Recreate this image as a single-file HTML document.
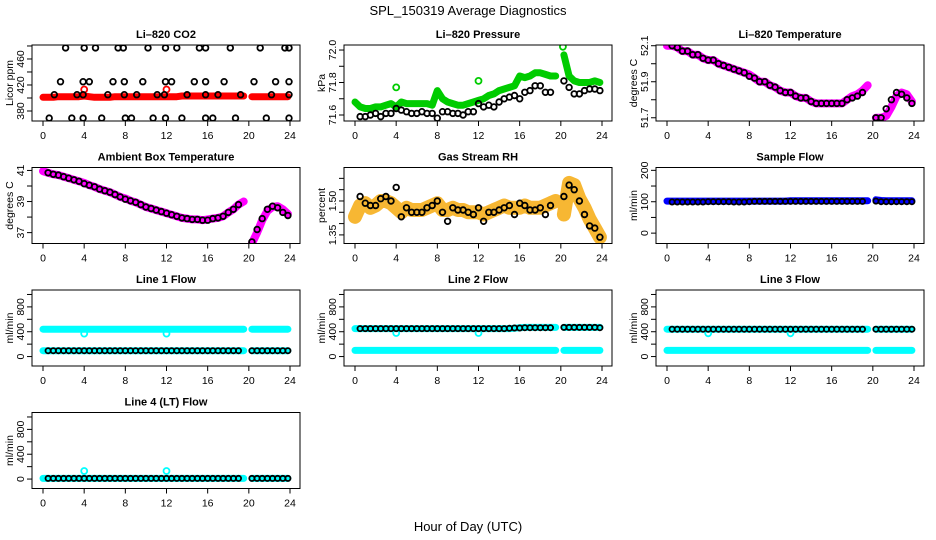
<!DOCTYPE html>
<html><head><meta charset="utf-8"><style>
body{margin:0;background:#fff;}
svg{display:block;font-family:"Liberation Sans",sans-serif;}
</style></head><body>
<svg id="chart" width="936" height="540" viewBox="0 0 936 540" xmlns="http://www.w3.org/2000/svg">
<text x="468" y="15" text-anchor="middle" font-size="13">SPL_150319  Average Diagnostics</text>
<text x="468" y="531" text-anchor="middle" font-size="13">Hour of Day (UTC)</text>
</svg>
<script>
const hours=[0,0.5,1,1.5,2,2.5,3,3.5,4,4.5,5,5.5,6,6.5,7,7.5,8,8.5,9,9.5,10,10.5,11,11.5,12,12.5,13,13.5,14,14.5,15,15.5,16,16.5,17,17.5,18,18.5,19,19.5,20.3,20.8,21.3,21.8,22.3,22.8,23.3,23.8];
const xTicks=[0,4,8,12,16,20,24];
const co2Red=[401,401,401,402,402,402,402,402,403,402,401,401,401,401,402,402,402,402,402,402,402,402,402,402,402,402,402,403,403,403,403,403,403,403,403,403,403,403,403,403,402,402,402,402,402,402,402,402];
const co2OutHours=[4,12];
const co2OutVals=[413,413];
const co2BlackHours=[2.2,4,5.1,7.3,7.8,10.2,11.9,13,15.2,15.8,18.2,21.1,23.5,23.9,1.7,3.9,4.5,6.8,7.9,9.7,11.9,12.5,14.7,15.8,17.6,20.5,22.6,23.9,1.1,3.3,3.9,6.3,7.9,9.1,11.1,11.8,14,15.8,17,19.2,22.2,23.9,0.6,2.8,3.9,5.7,8,8.6,10.7,11.9,13.5,15.8,16.5,18.7,21.7,23.9];
const co2BlackVals=[477,477,477,477,477,477,477,477,477,477,477,477,477,477,425,425,425,425,425,425,425,425,425,425,425,425,425,425,405,405,405,405,405,405,405,405,405,405,405,405,405,405,369,369,369,369,369,369,369,369,369,369,369,369,369,369];
const presGreen=[71.68,71.65,71.64,71.64,71.65,71.65,71.66,71.67,71.65,71.68,71.67,71.67,71.67,71.67,71.67,71.66,71.75,71.7,71.68,71.67,71.66,71.66,71.67,71.68,71.69,71.7,71.72,71.73,71.75,71.76,71.77,71.78,71.84,71.83,71.84,71.86,71.86,71.85,71.84,71.84,71.97,71.84,71.81,71.8,71.8,71.8,71.81,71.8];
const presOutHours=[4,12,20.2];
const presOutVals=[71.77,71.81,72.02];
const presBlack=[null,71.59,71.59,71.6,71.61,71.59,71.61,71.61,71.64,71.63,71.62,71.61,71.61,71.62,71.61,71.61,71.58,71.62,71.62,71.61,71.61,71.6,71.62,71.62,71.67,71.65,71.66,71.65,71.68,71.7,71.71,71.72,71.7,71.74,71.75,71.78,71.78,71.74,71.74,null,71.81,71.77,71.73,71.73,71.75,71.76,71.76,71.75];
const licorTemp=[52.1,52.1,52.09,52.07,52.07,52.05,52.05,52.03,52.02,52.02,52.0,51.99,51.98,51.97,51.96,51.95,51.94,51.92,51.9,51.9,51.88,51.87,51.85,51.84,51.84,51.82,51.81,51.81,51.79,51.78,51.78,51.78,51.78,51.78,51.78,51.8,51.82,51.83,51.85,51.88,51.7,51.7,51.71,51.76,51.82,51.84,51.83,51.79];
const licorTempBlack=[null,52.1,52.09,52.07,52.07,52.05,52.05,52.03,52.02,52.02,52.0,51.99,51.98,51.97,51.96,51.95,51.93,51.92,51.9,51.9,51.88,51.87,51.85,51.84,51.84,51.82,51.81,51.81,51.79,51.78,51.78,51.78,51.78,51.78,51.78,51.8,51.81,51.82,51.84,null,51.7,51.7,51.75,51.8,51.84,51.83,51.81,51.78];
const ambTemp=[40.95,40.85,40.75,40.7,40.6,40.5,40.4,40.3,40.2,40.05,39.95,39.8,39.7,39.6,39.45,39.3,39.2,39.05,38.95,38.8,38.65,38.55,38.45,38.35,38.25,38.15,38.05,37.95,37.9,37.85,37.85,37.8,37.85,37.9,37.95,38.05,38.3,38.5,38.8,39.0,36.3,37.0,37.8,38.4,38.65,38.7,38.5,38.2];
const ambTempBlack=[null,40.85,40.75,40.7,40.6,40.5,40.4,40.3,40.15,40.05,39.95,39.8,39.7,39.6,39.45,39.3,39.15,39.05,38.95,38.8,38.65,38.55,38.45,38.35,38.25,38.15,38.05,37.95,37.9,37.85,37.85,37.8,37.8,37.9,37.95,38.05,38.3,38.5,38.8,null,36.4,37.2,37.9,38.5,38.7,38.6,38.3,38.1];
const rhOrange=[1.43,1.48,1.49,1.47,1.48,1.5,1.5,1.49,1.47,1.45,1.47,1.46,1.46,1.46,1.47,1.48,1.49,1.46,1.46,1.47,1.46,1.46,1.45,1.45,1.45,1.44,1.45,1.46,1.47,1.48,1.47,1.47,1.47,1.48,1.47,1.47,1.47,1.48,1.49,1.5,1.44,1.58,1.57,1.51,1.47,1.42,1.38,1.34];
const rhBlack=[null,1.52,1.49,1.48,1.48,1.51,1.52,1.5,1.56,1.43,1.47,1.45,1.45,1.45,1.47,1.48,1.5,1.45,1.41,1.47,1.46,1.46,1.45,1.44,1.47,1.41,1.45,1.45,1.46,1.47,1.48,1.44,1.49,1.48,1.46,1.46,1.47,1.44,1.48,null,1.52,1.57,1.55,1.5,1.44,1.39,1.38,1.34];
const sampleBlue=[102,102,102,102,102,102,102,102,102,102,102,102,102,102,102,102,102,102,102,102,102,102,102,102,103,103,103,103,103,103,103,103,103,103,103,103,103,103,103,103,106,104,103,103,103,103,103,103];
const sampleBlack=[null,99,99,99,99,99,99,99,100,100,100,100,100,99,99,99,100,101,101,101,101,101,101,101,101,101,101,101,101,101,101,101,101,101,101,101,101,101,101,null,102,100,100,100,100,100,100,100];
const dipHours=[4,12];
const line1Dips=[370,370];
const line2Dips=[380,380];
const line3Dips=[375,375];
const line4Spikes=[130,130];
const line1Top=[440,440,440,440,440,440,440,440,440,440,440,440,440,440,440,440,440,440,440,440,440,440,440,440,440,440,440,440,440,440,440,440,440,440,440,440,440,440,440,440,440,440,440,440,440,440,440,440];
const line1Bot=[95,95,95,95,95,95,95,95,95,95,95,95,95,95,95,95,95,95,95,95,95,95,95,95,95,95,95,95,95,95,95,95,95,95,95,95,95,95,95,95,95,95,95,95,95,95,95,95];
const line1Black=[null,95,95,95,95,95,95,95,95,95,95,95,95,95,95,95,95,95,95,95,95,95,95,95,95,95,95,95,95,95,95,95,95,95,95,95,95,95,95,null,95,95,95,95,95,95,95,95];
const line2Top=[450,450,450,450,450,450,450,450,450,450,450,450,450,450,450,450,450,450,450,450,450,450,450,450,450,450,450,450,450,450,450,455,465,470,470,470,470,470,470,470,470,470,470,470,470,470,470,470];
const line2Bot=[100,100,100,100,100,100,100,100,100,100,100,100,100,100,100,100,100,100,100,100,100,100,100,100,100,100,100,100,100,100,100,100,100,100,100,100,100,100,100,100,100,100,100,100,100,100,100,100];
const line2Black=[null,450,450,450,450,450,450,450,450,450,450,450,450,450,450,450,450,450,450,450,450,450,450,450,450,450,450,450,450,450,455,460,460,465,465,465,465,465,465,null,470,470,470,470,470,470,470,465];
const line3Top=[440,440,440,440,440,440,440,440,440,440,440,440,440,440,440,440,440,440,440,440,440,440,440,440,440,440,440,440,440,440,440,440,440,440,440,440,440,440,440,440,440,440,440,440,440,440,440,440];
const line3Bot=[100,100,100,100,100,100,100,100,100,100,100,100,100,100,100,100,100,100,100,100,100,100,100,100,100,100,100,100,100,100,100,100,100,100,100,100,100,100,100,100,100,100,100,100,100,100,100,100];
const line3Black=[null,440,440,440,440,440,440,440,440,440,440,440,440,440,440,440,440,440,440,440,440,440,440,440,440,440,440,440,440,440,440,440,440,440,440,440,440,440,440,null,440,440,440,440,440,440,440,440];
const line4Cyan=[10,10,10,10,10,10,10,10,10,10,10,10,10,10,10,10,10,10,10,10,10,10,10,10,10,10,10,10,10,10,10,10,10,10,10,10,10,10,10,10,10,10,10,10,10,10,10,10];
const line4Black=[null,10,10,10,10,10,10,10,10,10,10,10,10,10,10,10,10,10,10,10,10,10,10,10,10,10,10,10,10,10,10,10,10,10,10,10,10,10,10,null,10,10,10,10,10,10,10,10];
const co2Ticks=[380,400,420,440,460,480], co2Labels=[380,420,460];
const presTicks=[71.6,71.7,71.8,71.9,72.0], presLabels=["71.6","71.8","72.0"];
const tempTicks=[51.7,51.8,51.9,52.0,52.1], tempLabels=["51.7","51.9","52.1"];
const ambTicks=[37,38,39,40,41], ambLabels=["37","39","41"];
const rhTicks=[1.35,1.40,1.45,1.50,1.55,1.60], rhLabels=["1.35","1.50"];
const sfTicks=[0,50,100,150,200], sfLabels=["0","100","200"];
const flowTicks=[0,200,400,600,800,1000], flowLabels=["0","400","800"];

const NS="http://www.w3.org/2000/svg";
const svg=document.getElementById('chart');
function mk(tag,attrs,parent,text){const e=document.createElementNS(NS,tag);for(const k in attrs)e.setAttribute(k,attrs[k]);if(text!==undefined)e.textContent=text;(parent||svg).appendChild(e);return e;}

function panel(cfg){
  const ox=cfg.col*312, top=45+122.5*cfg.row, bot=121+122.5*cfg.row;
  const g=mk('g',{});
  
  
  const x=h=>ox+43+h*247/24;
  const y=v=>top+(cfg.ymax-v)/(cfg.ymax-cfg.ymin)*(bot-top);
  const t=mk('text',{x:ox+166,y:top-7,'text-anchor':'middle','font-size':'11','font-weight':'bold'},g,cfg.title);
  
  
  const yl=mk('text',{x:0,y:0,'text-anchor':'middle','font-size':'10.5',transform:`translate(${ox+13},${(top+bot)/2}) rotate(-90)`},g,cfg.ylabel);
  
  
  const clip='c'+cfg.col+cfg.row;
  const cp=mk('clipPath',{id:clip},g);mk('rect',{x:ox+32,y:top,width:268,height:bot-top},cp);
  const sg=mk('g',{'clip-path':`url(#${clip})`},g);
  cfg.series.forEach(s=>{
    const hs=s.hours||hours;
    if(s.band){
      let segs=[],cur=[];
      hs.forEach((h,i)=>{const v=s.vals[i];if(v===null)return;if(cur.length&&h-cur[cur.length-1][0]>0.6){segs.push(cur);cur=[];}cur.push([h,v]);});
      if(cur.length)segs.push(cur);
      segs.forEach(sgm=>{
        const pl=mk('polyline',{points:sgm.map(p=>x(p[0]).toFixed(1)+','+y(p[1]).toFixed(1)).join(' '),fill:'none',stroke:s.color,'stroke-width':s.band,'stroke-linecap':'round','stroke-linejoin':'round'},sg);
        
        
      });
    }
    if(s.points){
      hs.forEach((h,i)=>{const v=s.vals[i];if(v===null)return;
        const c=mk('circle',{cx:x(h).toFixed(1),cy:y(v).toFixed(1),r:s.r||3,fill:s.fill||'none',stroke:s.color,'stroke-width':s.sw||1.8},sg);
        
        
      });
    }
  });
  const box=mk('rect',{x:ox+32,y:top,width:268,height:bot-top,fill:'none',stroke:'#000','stroke-width':1},g);
  
  
  xTicks.forEach(h=>{
    mk('line',{x1:x(h),x2:x(h),y1:bot,y2:bot+5,stroke:'#000'},g);
    const tl=mk('text',{x:x(h),y:bot+18,'text-anchor':'middle','font-size':'10.5'},g,String(h));
    
    
  });
  cfg.ticks.forEach(v=>{mk('line',{x1:ox+27,x2:ox+32,y1:y(v),y2:y(v),stroke:'#000'},g);});
  cfg.labels.forEach(v=>{
    const tl=mk('text',{x:0,y:0,'text-anchor':'middle','font-size':'10.5',transform:`translate(${ox+24},${y(+v)}) rotate(-90)`},g,String(v));
    
    
  });
}

panel({name:'co2-panel',col:0,row:0,title:'Li–820 CO2',ylabel:'Licor ppm',ymin:364.6,ymax:481.5,ticks:co2Ticks,labels:co2Labels,series:[
 {name:'co2-red',vals:co2Red,color:'#f00',band:7},
 {name:'co2-red-outlier',hours:co2OutHours,vals:co2OutVals,color:'#f00',points:true},
 {name:'co2-black',hours:co2BlackHours,vals:co2BlackVals,color:'#000',points:true,r:2.8}]});
panel({name:'pressure-panel',col:1,row:0,title:'Li–820 Pressure',ylabel:'kPa',ymin:71.563,ymax:72.031,ticks:presTicks,labels:presLabels,series:[
 {name:'pressure-green',vals:presGreen,color:'#0c0',band:7},
 {name:'pressure-green-outlier',hours:presOutHours,vals:presOutVals,color:'#0c0',points:true},
 {name:'pressure-black',vals:presBlack,color:'#000',points:true,r:2.8}]});
panel({name:'licor-temp-panel',col:2,row:0,title:'Li–820 Temperature',ylabel:'degrees C',ymin:51.682,ymax:52.104,ticks:tempTicks,labels:tempLabels,series:[
 {name:'licor-temp-magenta',vals:licorTemp,color:'#f0f',band:8},
 {name:'licor-temp-black',vals:licorTempBlack,color:'#000',points:true,r:2.8}]});
panel({name:'ambient-temp-panel',col:0,row:1,title:'Ambient Box Temperature',ylabel:'degrees C',ymin:36.3,ymax:41.19,ticks:ambTicks,labels:ambLabels,series:[
 {name:'ambient-magenta',vals:ambTemp,color:'#f0f',band:8},
 {name:'ambient-black',vals:ambTempBlack,color:'#000',points:true,r:2.8}]});
panel({name:'rh-panel',col:1,row:1,title:'Gas Stream RH',ylabel:'percent',ymin:1.312,ymax:1.648,ticks:rhTicks,labels:rhLabels,series:[
 {name:'rh-orange',vals:rhOrange,color:'#f7b733',band:14},
 {name:'rh-black',vals:rhBlack,color:'#000',points:true,r:2.8}]});
panel({name:'sample-flow-panel',col:2,row:1,title:'Sample Flow',ylabel:'ml/min',ymin:-33,ymax:209,ticks:sfTicks,labels:sfLabels,series:[
 {name:'sample-blue',vals:sampleBlue,color:'#00f',band:7},
 {name:'sample-black',vals:sampleBlack,color:'#000',points:true,r:2.6}]});
panel({name:'line1-panel',col:0,row:2,title:'Line 1 Flow',ylabel:'ml/min',ymin:-152,ymax:1072,ticks:flowTicks,labels:flowLabels,series:[
 {name:'line1-cyan-top',vals:line1Top,color:'#0ff',band:7},
 {name:'line1-cyan-bottom',vals:line1Bot,color:'#0ff',band:7},
 {name:'line1-cyan-dip',hours:dipHours,vals:line1Dips,color:'#0ff',points:true},
 {name:'line1-black',vals:line1Black,color:'#000',points:true,r:2.6}]});
panel({name:'line2-panel',col:1,row:2,title:'Line 2 Flow',ylabel:'ml/min',ymin:-152,ymax:1072,ticks:flowTicks,labels:flowLabels,series:[
 {name:'line2-cyan-top',vals:line2Top,color:'#0ff',band:7},
 {name:'line2-cyan-bottom',vals:line2Bot,color:'#0ff',band:7},
 {name:'line2-cyan-dip',hours:dipHours,vals:line2Dips,color:'#0ff',points:true},
 {name:'line2-black',vals:line2Black,color:'#000',points:true,r:2.6}]});
panel({name:'line3-panel',col:2,row:2,title:'Line 3 Flow',ylabel:'ml/min',ymin:-152,ymax:1072,ticks:flowTicks,labels:flowLabels,series:[
 {name:'line3-cyan-top',vals:line3Top,color:'#0ff',band:7},
 {name:'line3-cyan-bottom',vals:line3Bot,color:'#0ff',band:7},
 {name:'line3-cyan-dip',hours:dipHours,vals:line3Dips,color:'#0ff',points:true},
 {name:'line3-black',vals:line3Black,color:'#000',points:true,r:2.6}]});
panel({name:'line4-panel',col:0,row:3,title:'Line 4 (LT) Flow',ylabel:'ml/min',ymin:-152,ymax:1072,ticks:flowTicks,labels:flowLabels,series:[
 {name:'line4-cyan',vals:line4Cyan,color:'#0ff',band:7},
 {name:'line4-cyan-spike',hours:dipHours,vals:line4Spikes,color:'#0ff',points:true},
 {name:'line4-black',vals:line4Black,color:'#000',points:true,r:2.6}]});
</script>
</body></html>
